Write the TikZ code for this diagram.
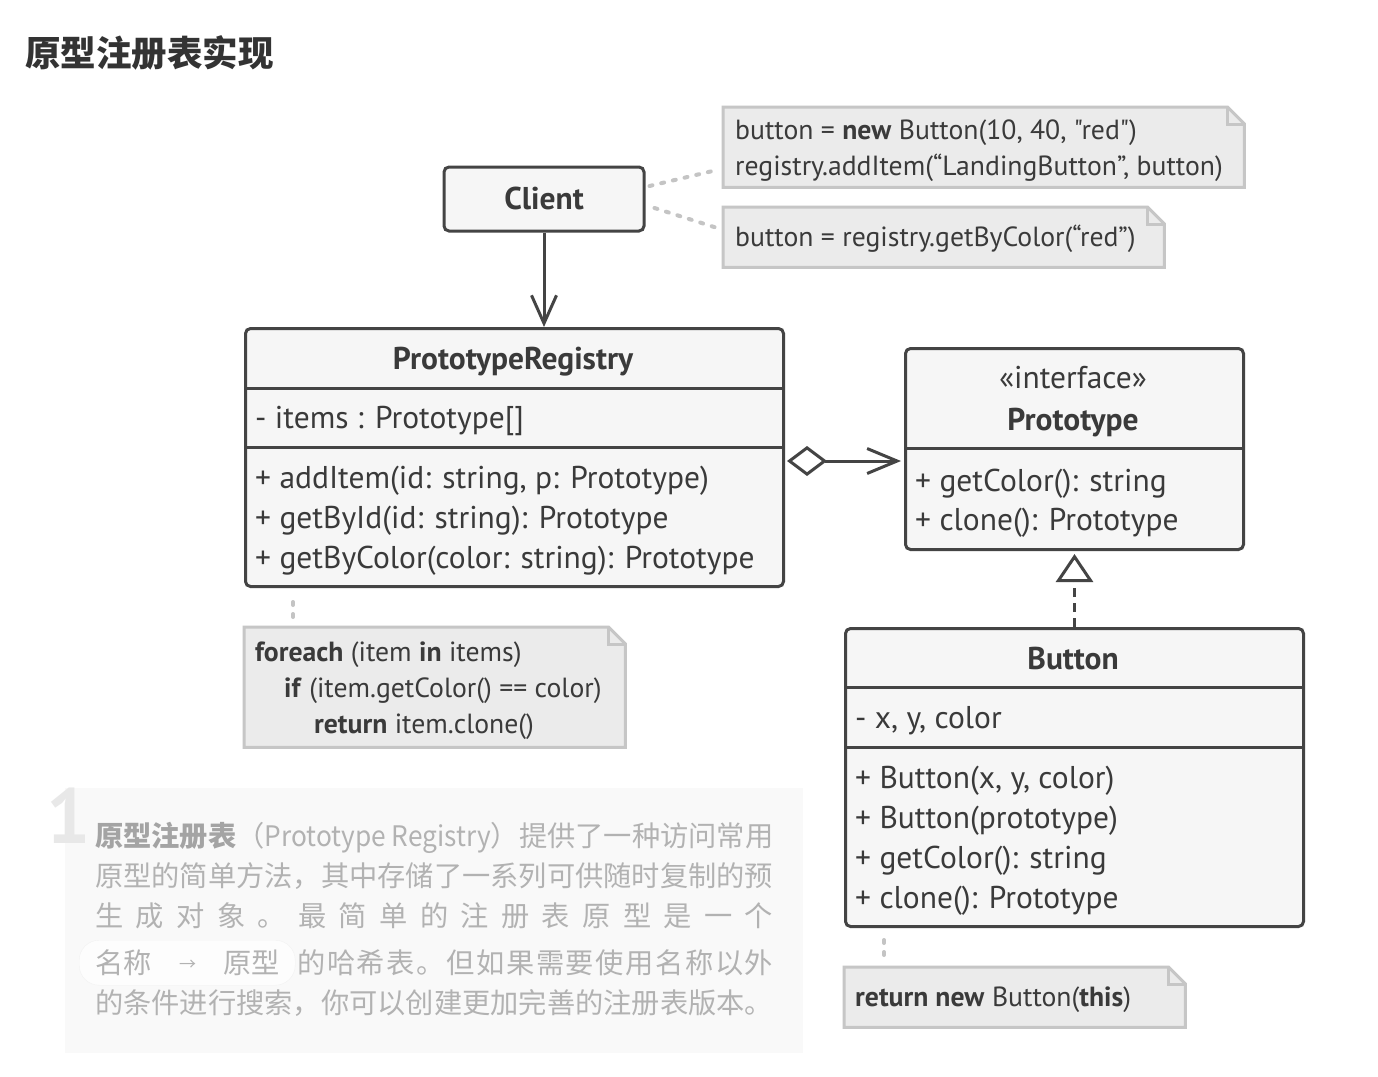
\documentclass[tikz,border=0pt]{standalone}
\usepackage{fontspec}
\usepackage{graphicx}
\setmainfont{PT Sans}[Ligatures=TeXOff]
\newfontfamily\cjk{Noto Sans CJK SC}
\usetikzlibrary{arrows.meta,calc}
\definecolor{ink}{HTML}{444444}
\definecolor{txt}{HTML}{3A3A3A}
\definecolor{cfill}{HTML}{F6F6F6}
\definecolor{nfill}{HTML}{EBEBEB}
\definecolor{nline}{HTML}{C6C6C6}
\definecolor{dotc}{HTML}{C4C4C4}
\definecolor{panel}{HTML}{F9F9F9}
\definecolor{ptxt}{HTML}{B2B2B2}
\definecolor{ptxtb}{HTML}{A4A4A4}
\definecolor{bigone}{HTML}{E8E8E8}
\definecolor{titlec}{HTML}{333333}
\newcommand\umlsize{\fontsize{31.5}{36}\selectfont}
\newcommand\notesize{\fontsize{27.7}{33}\selectfont}
\newcommand\panelsize{\fontsize{28.25}{34}\selectfont}
\tikzset{
  cls/.style={draw=ink, line width=3pt, fill=cfill, rounded corners=5pt, inner sep=0pt},
  sepline/.style={draw=ink, line width=3pt},
  uml/.style={text=txt, inner sep=0pt, font=\umlsize},
  umlb/.style={text=txt, inner sep=0pt, font=\umlsize\bfseries},
  ntxt/.style={text=txt, inner sep=0pt, font=\notesize},
  notebox/.style={inner sep=0pt, draw=none},
  notedraw/.style={draw=nline, fill=nfill, line width=3pt, line join=miter},
  dotline/.style={draw=dotc, line width=4pt, dash pattern=on 3pt off 9pt, line cap=round},
  assoc/.style={draw=ink, line width=3pt, -{Straight Barb[length=28pt,width=25pt]}},
  agg/.style={draw=ink, line width=3pt, {Diamond[open,length=40pt,width=30pt]}-{Straight Barb[length=30pt,width=25pt]}},
  real/.style={draw=ink, line width=3pt, dash pattern=on 9pt off 6pt, -{Triangle[open,length=28pt,width=37pt]}},
  ptext/.style={text=ptxt, inner sep=0pt, font=\cjk\panelsize, anchor=base west},
}
\begin{document}
\begin{tikzpicture}[x=1pt,y=-1pt]
\useasboundingbox (0,0) rectangle (1378,1076);
\fill[white] (0,0) rectangle (1378,1076);

% title
\node[anchor=west, inner sep=0pt, text=titlec, font=\cjk\bfseries\fontsize{35.5}{40}\selectfont] (title) at (25,53) {原型注册表实现};

% Client
\node[cls, minimum width=200pt, minimum height=64pt] (client) at (544,199) {};
\node[umlb, anchor=base] (clientT) at (544,209) {Client};

% PrototypeRegistry
\node[cls, anchor=north west, minimum width=538pt, minimum height=258pt] (reg) at (244,327) {};
\draw[sepline] (244,388) -- (782,388);
\draw[sepline] (244,447) -- (782,447);
\node[umlb, anchor=base] (regT) at (513,369) {PrototypeRegistry};
\node[uml, anchor=base west] (regA) at (255,428) {- items : Prototype[]};
\node[uml, anchor=base west] (regM1) at (255,488) {+ addItem(id: string, p: Prototype)};
\node[uml, anchor=base west] (regM2) at (255,528) {+ getById(id: string): Prototype};
\node[uml, anchor=base west] (regM3) at (255,568) {+ getByColor(color: string): Prototype};

% Prototype interface
\node[cls, anchor=north west, minimum width=338pt, minimum height=201pt] (proto) at (904,347) {};
\draw[sepline] (904,448) -- (1242,448);
\node[uml, anchor=base] (protoS) at (1073,388) {«interface»};
\node[umlb, anchor=base] (protoT) at (1073,430) {Prototype};
\node[uml, anchor=base west] (protoM1) at (915,491) {+ getColor(): string};
\node[uml, anchor=base west] (protoM2) at (915,530) {+ clone(): Prototype};

% Button
\node[cls, anchor=north west, minimum width=458pt, minimum height=298pt] (button) at (844,627) {};
\draw[sepline] (844,687) -- (1302,687);
\draw[sepline] (844,747) -- (1302,747);
\node[umlb, anchor=base] (buttonT) at (1073,669) {Button};
\node[uml, anchor=base west] (buttonA) at (855,728) {- x, y, color};
\node[uml, anchor=base west] (buttonM1) at (855,788) {+ Button(x, y, color)};
\node[uml, anchor=base west] (buttonM2) at (855,828) {+ Button(prototype)};
\node[uml, anchor=base west] (buttonM3) at (855,868) {+ getColor(): string};
\node[uml, anchor=base west] (buttonM4) at (855,908) {+ clone(): Prototype};

% relations
\draw[assoc] (client.south) -- (client.south |- reg.north);
\coordinate (aggy) at (0,461);
\draw[agg] ([xshift=2pt]reg.east |- aggy) -- ([xshift=-3pt]proto.west |- aggy);
\draw[real] (button.north) -- ([yshift=-3pt]button.north |- proto.south);

% notes
\node[notebox, anchor=north west, minimum width=521pt, minimum height=80pt] (n1) at (723,107) {};
\draw[notedraw] (n1.north west) -- ([xshift=-17pt]n1.north east) -- ([yshift=-17pt]n1.north east) -- (n1.south east) -- (n1.south west) -- cycle;
\draw[notedraw, fill=none] ([xshift=-17pt]n1.north east) |- ([yshift=-17pt]n1.north east);
\node[ntxt, anchor=base west] (n1a) at (735,139) {button = \textbf{new} Button(10, 40, "red")};
\node[ntxt, anchor=base west] (n1b) at (735,175) {registry.addItem(“LandingButton”, button)};

\node[notebox, anchor=north west, minimum width=441pt, minimum height=60pt] (n2) at (723,207) {};
\draw[notedraw] (n2.north west) -- ([xshift=-17pt]n2.north east) -- ([yshift=-17pt]n2.north east) -- (n2.south east) -- (n2.south west) -- cycle;
\draw[notedraw, fill=none] ([xshift=-17pt]n2.north east) |- ([yshift=-17pt]n2.north east);
\node[ntxt, anchor=base west] (n2a) at (735,246) {button = registry.getByColor(“red”)};

\node[notebox, anchor=north west, minimum width=381pt, minimum height=120pt] (n3) at (244,627) {};
\draw[notedraw] (n3.north west) -- ([xshift=-17pt]n3.north east) -- ([yshift=-17pt]n3.north east) -- (n3.south east) -- (n3.south west) -- cycle;
\draw[notedraw, fill=none] ([xshift=-17pt]n3.north east) |- ([yshift=-17pt]n3.north east);
\node[ntxt, anchor=base west] (n3a) at (255,661) {\textbf{foreach} (item \textbf{in} items)};
\node[ntxt, anchor=base west] (n3b) at (284,697) {\textbf{if} (item.getColor() == color)};
\node[ntxt, anchor=base west] (n3c) at (314,733) {\textbf{return} item.clone()};

\node[notebox, anchor=north west, minimum width=341pt, minimum height=60pt] (n4) at (844,967) {};
\draw[notedraw] (n4.north west) -- ([xshift=-17pt]n4.north east) -- ([yshift=-17pt]n4.north east) -- (n4.south east) -- (n4.south west) -- cycle;
\draw[notedraw, fill=none] ([xshift=-17pt]n4.north east) |- ([yshift=-17pt]n4.north east);
\node[ntxt, anchor=base west] (n4a) at (855,1006) {\textbf{return new} Button(\textbf{this})};

% note connectors
\draw[dotline] ([xshift=4pt,yshift=13pt]client.east) -- ([xshift=-7pt,yshift=-23pt]n1.west);
\draw[dotline] ([xshift=9pt,yshift=-9pt]client.east) -- ([xshift=-2pt,yshift=8pt]n2.west);
\draw[dotline] ([xshift=49pt,yshift=-14pt]reg.south west) -- ([xshift=49pt,yshift=7pt]n3.north west);
\draw[dotline] ([xshift=40pt,yshift=-12pt]button.south west) -- ([xshift=40pt,yshift=7pt]n4.north west);

% bottom panel
\node[inner sep=0pt, anchor=north west, fill=panel, minimum width=738pt, minimum height=265pt] (panel) at (65,788) {};
\node[inner sep=0pt, anchor=north west, text=bigone, font=\bfseries\fontsize{78}{80}\selectfont] (one) at (46,788) {1};
\node[inner sep=0pt, anchor=north west, fill=white!60!panel, draw=black!5, rounded corners=20pt, minimum width=216pt, minimum height=45pt] (pill) at (79,940) {};
\node[ptext] (p1) at (95,846) {{\color{ptxtb}\bfseries 原型注册表}（\scalebox{0.93}[1]{Prototype Registry}）提供了一种访问常用};
\node[ptext] (p2) at (95,886) {原型的简单方法，其中存储了一系列可供随时复制的预};
\node[ptext] (p3) at (95,926) {\makebox[678pt][l]{生\hfill 成\hfill 对\hfill 象\hfill 。\hfill 最\hfill 简\hfill 单\hfill 的\hfill 注\hfill 册\hfill 表\hfill 原\hfill 型\hfill 是\hfill 一\hfill 个}};
\node[ptext] (p4a) at (95,973) {\makebox[185pt][l]{名称\hfill \raisebox{3pt}{\fontsize{17}{17}\selectfont →}\hfill 原型}};
\node[ptext] (p4b) at (297,973) {\makebox[476pt][l]{的\hfill 哈\hfill 希\hfill 表\hfill 。\hfill 但\hfill 如\hfill 果\hfill 需\hfill 要\hfill 使\hfill 用\hfill 名\hfill 称\hfill 以\hfill 外}};
\node[ptext] (p5) at (95,1013) {的条件进行搜索，你可以创建更加完善的注册表版本。};
\end{tikzpicture}
\end{document}
